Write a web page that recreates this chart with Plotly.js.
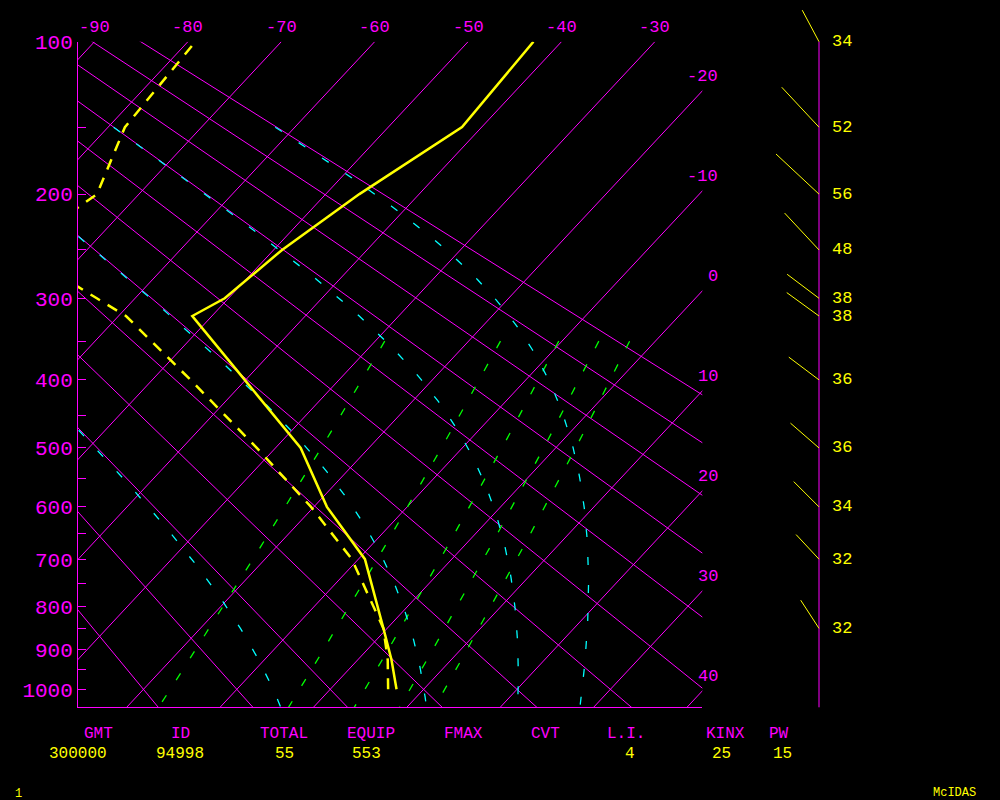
<!DOCTYPE html>
<html><head><meta charset="utf-8">
<script src="https://cdn.plot.ly/plotly-3.0.1.min.js"></script>
<style>html,body{margin:0;padding:0;background:#000;} #chart{width:1000px;height:800px;}</style>
</head><body><div id="chart"></div>
<script>
// ---------------- data ----------------
const PRESSURE    = [1000, 925, 850, 700, 600, 500, 400, 320, 300, 250, 200, 150, 100];
const TEMPERATURE = [7.1, 3.6, -0.4, -9.3, -18.6, -27.3, -40.1, -52.1, -50.4, -49.1, -46.4, -42.1, -43.0];
const DEWPOINT    = [6.2, 3.2, -0.4, -10.7, -20.3, -32.0, -45.9, -59.2, -64.1, -77.4, -74.5, -78.2, -79.2];

const WIND_PRESSURE = [100, 150, 200, 250, 300, 320, 400, 500, 600, 700, 850];
const WIND_SPEED    = [34, 52, 56, 48, 38, 38, 36, 36, 34, 32, 32];
const WIND_DIR      = [332, 317, 313, 317, 307, 306, 307, 311, 315, 317, 327];

const ISOTHERMS      = [-90, -80, -70, -60, -50, -40, -30, -20, -10, 0, 10, 20, 30, 40];
const DRY_ADIABATS   = [-20, -10, 0, 10, 20, 30, 40, 50, 60, 70, 80, 90];   // theta, °C
const MOIST_ADIABATS = [0, 30, 60, 90];                                      // theta-e, °C
const MIXING_RATIOS  = [1, 3, 5, 7, 9];                                      // g/kg
const PRESSURE_TICKS = [100,150,200,250,300,350,400,450,500,550,600,650,700,750,800,850,900,950,1000];
const PRESSURE_LABELS = [100,200,300,400,500,600,700,800,900,1000];
const TOP_TEMP_LABELS = [-90, -80, -70, -60, -50, -40, -30];
const RIGHT_TEMP_LABELS = [-20, -10, 0, 10, 20, 30, 40];

const STAT_NAMES  = ['GMT', 'ID', 'TOTAL', 'EQUIP', 'FMAX', 'CVT', 'L.I.', 'KINX', 'PW'];
const STAT_VALUES = ['300000', '94998', '55', '553', '', '', '4', '25', '15'];

// ---------------- diagram geometry ----------------
const KAP = 0.2857;
const PX_PER_PK = 186.7;          // vertical pixels per unit of p^kappa
const SKEW = 0.1 * PX_PER_PK;     // °C shift per unit p^kappa at constant x
const pk = p => Math.pow(p, KAP);
const PK0 = pk(100);
const PK_BOT = PK0 + 665.6 / PX_PER_PK;
const XMIN = -91.77, XMAX = -24.92;   // skewed temperature at left / right edges (100 hPa reference)
const sx = (T, p) => T - SKEW * (pk(p) - PK0);

const MAG = '#ff00ff', YEL = '#ffff00', CYA = '#00ffff', GRN = '#00ff00';
const FONT = 'Liberation Mono, DejaVu Sans Mono, monospace';

function es(T) { return 6.112 * Math.exp(17.67 * T / (T + 243.5)); }
function thetaE(T, p) {
  const TK = T + 273.15, e = es(T), w = 0.622 * e / (p - e);
  return TK * Math.pow(1000 / p, KAP) * Math.exp(2.5e6 * w / (1004 * TK));
}
function moistT(thK, p) {
  let lo = -130, hi = 60;
  for (let i = 0; i < 60; i++) {
    const mid = (lo + hi) / 2;
    if (thetaE(mid, p) > thK) hi = mid; else lo = mid;
  }
  return (lo + hi) / 2;
}
function mixT(w, p) {
  const e = w * p / (622 + w), L = Math.log(e / 6.112);
  return 243.5 * L / (17.67 - L);
}

const traces = [];
function lineTrace(xs, ys, color, width, dash, xa, ya) {
  traces.push({type: 'scatter', mode: 'lines', x: xs, y: ys, xaxis: xa || 'x', yaxis: ya || 'y',
    line: {color: color, width: width, dash: dash || 'solid'}, hoverinfo: 'skip', connectgaps: false});
}

// isotherms
{ const xs = [], ys = [];
  ISOTHERMS.forEach(T => { [1100, 100].forEach(p => { xs.push(sx(T, p)); ys.push(pk(p)); }); xs.push(null); ys.push(null); });
  lineTrace(xs, ys, MAG, 1); }
// dry adiabats
{ const xs = [], ys = [];
  DRY_ADIABATS.forEach(th => { [1100, 60].forEach(p => {
      const T = (th + 273.15) * Math.pow(p / 1000, KAP) - 273.15; xs.push(sx(T, p)); ys.push(pk(p)); });
    xs.push(null); ys.push(null); });
  lineTrace(xs, ys, MAG, 1); }
// mixing ratio lines
{ const xs = [], ys = [];
  MIXING_RATIOS.forEach(w => { for (let p = 350; p <= 1100; p += 25) { xs.push(sx(mixT(w, p), p)); ys.push(pk(p)); }
    xs.push(null); ys.push(null); });
  lineTrace(xs, ys, GRN, 1.3, '8px,18px'); }
// moist adiabats
{ const xs = [], ys = [];
  MOIST_ADIABATS.forEach(th => { const thK = th + 273.15;
    for (let p = 150; p <= 1100; p += 10) { xs.push(sx(moistT(thK, p), p)); ys.push(pk(p)); }
    xs.push(null); ys.push(null); });
  lineTrace(xs, ys, CYA, 1.3, '8px,20px'); }
// dewpoint and temperature
lineTrace(PRESSURE.map((p, i) => sx(DEWPOINT[i], p)), PRESSURE.map(pk), YEL, 2.5, '11px,9px');
lineTrace(PRESSURE.map((p, i) => sx(TEMPERATURE[i], p)), PRESSURE.map(pk), YEL, 2.5);

// wind staff line and barbs
lineTrace([0, 0], [PK0, PK_BOT], MAG, 1, null, 'x3', 'y2');
{ const xs = [], ys = [];
  WIND_PRESSURE.forEach((p, i) => {
    const L = 1.05 * WIND_SPEED[i], a = WIND_DIR[i] * Math.PI / 180;
    xs.push(0, L * Math.sin(a), null);
    ys.push(pk(p), pk(p) - L * Math.cos(a) / PX_PER_PK, null);
  });
  lineTrace(xs, ys, YEL, 1, null, 'x3', 'y2'); }

const annotations = [];
// isotherm labels along the top (at 100 hPa the skewed x equals the temperature)
TOP_TEMP_LABELS.forEach(T => annotations.push({xref: 'x', yref: 'y', x: sx(T, 100), y: PK0,
  text: String(T), showarrow: false, xanchor: 'center', yanchor: 'middle', yshift: 14,
  font: {family: FONT, size: 17, color: MAG}}));
// isotherm labels at the right edge
RIGHT_TEMP_LABELS.forEach(T => annotations.push({xref: 'x', yref: 'y', x: XMAX, y: PK0 + (T - XMAX) / SKEW,
  text: String(T), showarrow: false, xanchor: 'right', yanchor: 'middle', xshift: 18, yshift: 14,
  font: {family: FONT, size: 17, color: MAG}}));
WIND_PRESSURE.forEach((p, i) => annotations.push({xref: 'x3', yref: 'y2', x: 0, y: pk(p),
  text: String(WIND_SPEED[i]), showarrow: false, xanchor: 'left', yanchor: 'middle', xshift: 11,
  font: {family: FONT, size: 17, color: YEL}}));
const NAME_X  = [98.8, 180.5, 284.2, 370.8, 463.8, 545.8, 626.3, 725.8, 778.8];
const VALUE_X = [77.5, 180.3, 284.3, 366.2, 463.8, 545.8, 630.0, 721.7, 782.5];
STAT_NAMES.forEach((s, i) => {
  annotations.push({xref: 'paper', yref: 'paper', x: NAME_X[i] / 1000, y: 1 - 734 / 800, text: s, showarrow: false,
    xanchor: 'center', yanchor: 'middle', font: {family: FONT, size: 16, color: MAG}});
  if (STAT_VALUES[i]) annotations.push({xref: 'paper', yref: 'paper', x: VALUE_X[i] / 1000, y: 1 - 754 / 800,
    text: STAT_VALUES[i], showarrow: false, xanchor: 'center', yanchor: 'middle', font: {family: FONT, size: 16, color: YEL}});
});
annotations.push({xref: 'paper', yref: 'paper', x: 18.5 / 1000, y: 1 - 794 / 800, text: '1', showarrow: false,
  xanchor: 'center', yanchor: 'middle', font: {family: FONT, size: 12, color: YEL}});
annotations.push({xref: 'paper', yref: 'paper', x: 954 / 1000, y: 1 - 793 / 800, text: 'McIDAS', showarrow: false,
  xanchor: 'center', yanchor: 'middle', font: {family: FONT, size: 12, color: YEL}});

const layout = {
  width: 1000, height: 800, autosize: false,
  margin: {l: 0, r: 0, t: 0, b: 0, pad: 0},
  paper_bgcolor: '#000', plot_bgcolor: 'rgba(0,0,0,0)', showlegend: false,
  xaxis: {domain: [0.078, 0.7023], range: [XMIN, XMAX], anchor: 'y', showgrid: false, zeroline: false,
    showline: true, linecolor: MAG, linewidth: 1, ticks: '', showticklabels: false, fixedrange: true},
  yaxis: {domain: [0.115875, 0.947875], range: [PK_BOT, PK0], anchor: 'x', showgrid: false, zeroline: false,
    showline: true, linecolor: MAG, linewidth: 1, ticks: 'inside', ticklen: 8, tickcolor: MAG, tickwidth: 1,
    tickmode: 'array', tickvals: PRESSURE_TICKS.map(pk),
    ticktext: PRESSURE_TICKS.map(p => PRESSURE_LABELS.includes(p) ? String(p) : ''),
    tickfont: {family: FONT, size: 21, color: MAG}, ticklabelstandoff: 0},
  xaxis3: {domain: [0.760, 0.830], range: [-59, 11], anchor: 'y2', visible: false},
  yaxis2: {domain: [0, 1], range: [PK0 + (800 - 41.7) / PX_PER_PK, PK0 - 41.7 / PX_PER_PK], anchor: 'x3', visible: false},
  annotations: annotations
};
Plotly.newPlot('chart', traces, layout, {displayModeBar: false, staticPlot: true});
</script></body></html>
